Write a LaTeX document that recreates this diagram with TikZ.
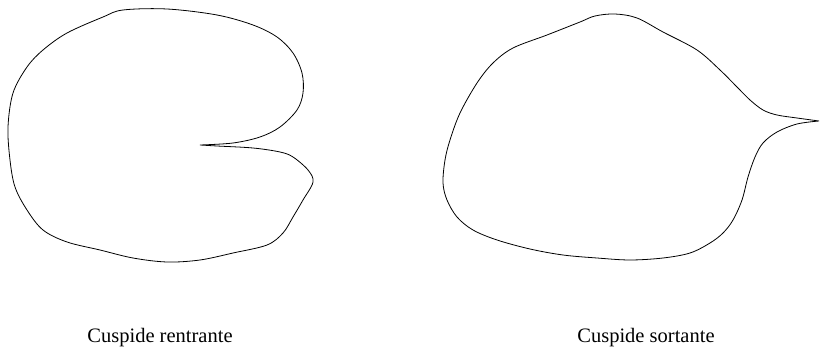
\documentclass[tikz,border=0pt]{standalone}
\usepackage{fontspec}
\setmainfont{Liberation Serif}
\begin{document}
\begin{tikzpicture}[x=1pt,y=-1pt,
  contour/.style={line width=0.8pt, black, line join=round},
  caption/.style={font=\fontsize{20.5}{24}\selectfont, anchor=base, inner sep=0pt}]
\useasboundingbox (0,0) rectangle (821,347);
% left shape: re-entrant cusp
\draw[contour] plot[smooth, tension=0.55] coordinates {
 (200,145) (233,143) (260,137) (280,127) (297,110) (303,93) (302,73) (293,53)
 (277,37) (253,25) (217,15) (167,9) (123,10) (103,17) (67,33) (43,50) (27,67)
 (13,93) (8,127) (10,160) (15,187) (27,210) (43,230) (67,242) (100,250)
 (133,258) (167,262) (200,260) (233,253) (267,245) (283,233) (293,217)
 (303,200) (313,182) (308,170) (293,157) (280,152) (253,148) (217,146) (200,145)};
% right shape: salient cusp
\draw[contour] plot[smooth, tension=0.55] coordinates {
 (819,121) (797,118) (777,115) (763,110) (750,100) (737,87) (720,70) (697,50)
 (663,32) (637,18) (615,14) (595,16) (580,22) (547,35) (513,48) (493,63)
 (477,83) (460,113) (450,140) (445,160) (443,183) (447,200) (457,217)
 (473,230) (497,240) (530,249) (563,255) (597,258) (630,260) (663,258)
 (690,253) (710,243) (723,233) (733,220) (742,200) (748,177) (755,157)
 (763,143) (777,132) (797,124) (819,121)};
\node[caption] (l1) at (160,342) {Cuspide rentrante};
\node[caption] (l2) at (646,342) {Cuspide sortante};
\end{tikzpicture}
\end{document}
